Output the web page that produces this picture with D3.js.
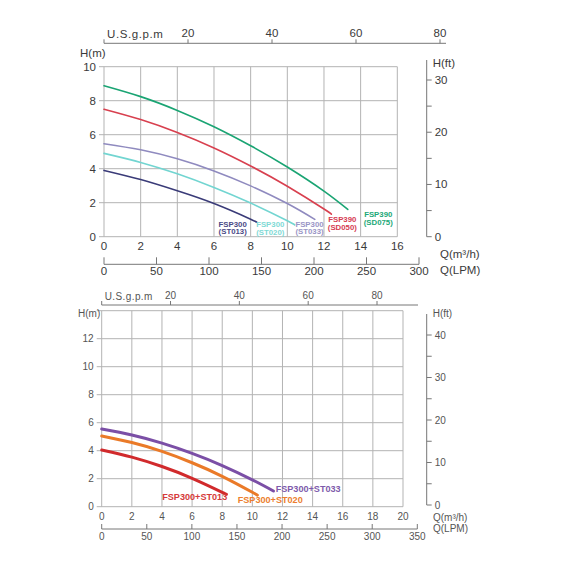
<!DOCTYPE html>
<html>
<head>
<meta charset="utf-8">
<script src="https://cdn.jsdelivr.net/npm/d3@7"></script>
<style>
  body { margin: 0; background: #fff; }
  text { font-family: "Liberation Sans", Arial, sans-serif; }
</style>
</head>
<body>
<svg id="chart" width="570" height="570"></svg>
<script>
// ---- data: Q in m3/h, H in m ----
var topNames = [["FSP300", "(ST013)"], ["FSP300", "(ST020)"], ["FSP300", "(ST033)"], ["FSP390", "(SD050)"], ["FSP390", "(SD075)"]];
var topST013 = [[0, 3.9], [2, 3.36], [4, 2.7], [6, 1.95], [8, 1.03], [8.3, 0.86]];
var topST020 = [[0, 4.9], [2, 4.37], [4, 3.7], [6, 2.9], [8, 1.98], [10, 0.94], [10.4, 0.69]];
var topST033 = [[0, 5.47], [2, 5.11], [4, 4.58], [6, 3.87], [8, 2.99], [10, 1.95], [11.5, 1.02]];
var topSD050 = [[0, 7.5], [2, 6.89], [4, 6.13], [6, 5.22], [8, 4.16], [10, 2.97], [12, 1.63], [12.4, 1.32]];
var topSD075 = [[0, 8.88], [2, 8.24], [4, 7.43], [6, 6.47], [8, 5.35], [10, 4.1], [12, 2.68], [13.3, 1.6]];

var botNames = ["FSP300+ST013", "FSP300+ST020", "FSP300+ST033"];
var botST013 = [[0, 4.05], [2, 3.54], [4, 2.87], [6, 2.03], [8, 1.03], [8.2, 0.92]];
var botST020 = [[0, 5.05], [2, 4.58], [4, 3.95], [6, 3.14], [8, 2.17], [10, 1.03], [10.3, 0.84]];
var botST033 = [[0, 5.55], [2, 5.12], [4, 4.54], [6, 3.81], [8, 2.94], [10, 1.92], [11.4, 1.12]];

// tick labels
var gpmTicks = [20, 40, 60, 80];
var topQTicks = d3.range(0, 17, 2);
var topHTicks = d3.range(0, 11, 2);
var topLpmTicks = [0, 50, 100, 150, 200, 250, 300];
var topFtTicks = [0, 10, 20, 30];
var topFtMinor = [5, 15, 25];
var botQTicks = d3.range(0, 21, 2);
var botHTicks = [0, 2, 4, 6, 8, 10, 12];
var botLpmTicks = [0, 50, 100, 150, 200, 250, 300, 350];
var botFtTicks = [0, 10, 20, 30, 40];
var botFtMinor = [5, 15, 25, 35];

var svg = d3.select('#chart');

function drawChart(c) {
  var g = svg.append('g');
  var x = d3.scaleLinear().domain([0, c.qMax]).range([c.x0, c.x1]);
  var y = d3.scaleLinear().domain([0, c.hMax]).range([c.yBot, c.yTop]);
  var gpm = d3.scaleLinear().domain([0, 80]).range([c.x0, c.gpmEnd]);
  var lpm = d3.scaleLinear().domain([0, c.lpmMax]).range([c.x0, c.lpmEnd]);
  var ft = d3.scaleLinear().domain([0, c.ftRef]).range([c.ftBot, c.ftRefY]);
  var grid = '#b3b3b3', axc = '#777', tc = c.textColor;

  // grid
  g.selectAll('.vg').data(c.qTicks).enter().append('line')
    .attr('x1', d => x(d)).attr('x2', d => x(d))
    .attr('y1', c.yTop).attr('y2', c.yBot)
    .attr('stroke', grid).attr('stroke-width', 1);
  g.selectAll('.hg').data(c.hGrid).enter().append('line')
    .attr('x1', c.x0 - 5).attr('x2', c.x1)
    .attr('y1', d => y(d)).attr('y2', d => y(d))
    .attr('stroke', grid).attr('stroke-width', 1);

  // left H(m) labels
  g.selectAll('.hl').data(c.hTicks).enter().append('text')
    .attr('x', c.x0 - 8).attr('y', d => y(d)).attr('dy', '0.35em')
    .attr('text-anchor', 'end').attr('font-size', c.fs).attr('fill', tc)
    .text(d => d);
  g.append('text').attr('x', c.hmX).attr('y', c.hmY).attr('dy', '0.35em')
    .attr('font-size', c.fs).attr('fill', tc).text('H(m)');

  // Q m3/h labels
  g.selectAll('.ql').data(c.qTicks).enter().append('text')
    .attr('x', d => x(d)).attr('y', c.yBot + c.qLabOff).attr('dy', '0.35em')
    .attr('text-anchor', 'middle').attr('font-size', c.fs).attr('fill', tc)
    .text(d => d);

  // top U.S.g.p.m axis
  g.append('line').attr('x1', c.x0).attr('x2', c.gpmLineEnd)
    .attr('y1', c.gpmY).attr('y2', c.gpmY).attr('stroke', axc);
  g.selectAll('.gt').data([0].concat(gpmTicks)).enter().append('line')
    .attr('x1', d => gpm(d)).attr('x2', d => gpm(d))
    .attr('y1', c.gpmY).attr('y2', c.gpmY - 4).attr('stroke', axc);
  g.selectAll('.gl').data(gpmTicks).enter().append('text')
    .attr('x', d => gpm(d)).attr('y', c.gpmY - 10).attr('dy', '0.35em')
    .attr('text-anchor', 'middle').attr('font-size', c.fs).attr('fill', tc)
    .text(d => d);
  g.append('text').attr('x', c.x0 + 3).attr('y', c.gpmY - 9).attr('dy', '0.35em')
    .attr('font-size', c.fs).attr('letter-spacing', c.gpmSp).attr('fill', tc).text('U.S.g.p.m');

  // bottom LPM axis
  g.append('line').attr('x1', c.x0).attr('x2', c.lpmEnd)
    .attr('y1', c.lpmY).attr('y2', c.lpmY).attr('stroke', axc);
  g.selectAll('.lt').data(c.lpmTicks).enter().append('line')
    .attr('x1', d => lpm(d)).attr('x2', d => lpm(d))
    .attr('y1', c.lpmY).attr('y2', c.lpmY - c.lpmTick).attr('stroke', axc);
  g.selectAll('.ll').data(c.lpmTicks).enter().append('text')
    .attr('x', d => lpm(d)).attr('y', c.lpmY + c.lpmLabOff).attr('dy', '0.35em')
    .attr('text-anchor', 'middle').attr('font-size', c.fs).attr('fill', tc)
    .text(d => d);
  g.append('text').attr('x', c.qNameX).attr('y', c.qNameY1).attr('dy', '0.35em')
    .attr('font-size', c.fs).attr('fill', tc).text('Q(m³/h)');
  g.append('text').attr('x', c.qNameX).attr('y', c.qNameY2).attr('dy', '0.35em')
    .attr('font-size', c.fs).attr('fill', tc).text('Q(LPM)');

  // right H(ft) axis
  g.append('line').attr('x1', c.ftX).attr('x2', c.ftX)
    .attr('y1', c.ftTop).attr('y2', c.ftBot).attr('stroke', axc);
  g.selectAll('.ft').data(c.ftTicks.concat(c.ftMinor)).enter().append('line')
    .attr('x1', c.ftX).attr('x2', c.ftX + 5)
    .attr('y1', d => ft(d)).attr('y2', d => ft(d)).attr('stroke', axc);
  g.selectAll('.fl').data(c.ftTicks).enter().append('text')
    .attr('x', c.ftX + 8).attr('y', d => ft(d)).attr('dy', '0.35em')
    .attr('font-size', c.fs).attr('fill', tc).text(d => d);
  g.append('text').attr('x', c.ftX + 6).attr('y', c.ftNameY).attr('dy', '0.35em')
    .attr('font-size', c.fs).attr('fill', tc).text('H(ft)');

  // curves
  var line = d3.line().x(d => x(d[0])).y(d => y(d[1])).curve(d3.curveNatural);
  g.selectAll('.curve').data(c.series).enter().append('path')
    .attr('d', line).attr('fill', 'none')
    .attr('stroke', (d, i) => c.colors[i]).attr('stroke-width', c.sw)
    .attr('stroke-linecap', 'round');

  // curve labels
  c.names.forEach(function (nm, i) {
    var lines = Array.isArray(nm) ? nm : [nm];
    lines.forEach(function (t, j) {
      g.append('text')
        .attr('x', x(c.labelAt[i][0])).attr('y', y(c.labelAt[i][1]) + j * c.labLine)
        .attr('dy', '0.35em').attr('text-anchor', c.labAnchor)
        .attr('font-size', c.labFs).attr('font-weight', 'bold')
        .attr('fill', c.labColors[i]).text(t);
    });
  });
}

drawChart({
  x0: 104, x1: 397.3, qMax: 16, yTop: 66.7, yBot: 236.7, hMax: 10,
  qTicks: topQTicks, hTicks: topHTicks, hGrid: topHTicks,
  gpmY: 43.3, gpmEnd: 440, gpmLineEnd: 446, gpmSp: 0.6,
  lpmMax: 300, lpmEnd: 419, lpmY: 264.3, lpmTick: 7, lpmLabOff: 6.5, lpmTicks: topLpmTicks,
  ftX: 426.7, ftTop: 60, ftBot: 236.7, ftRef: 30, ftRefY: 80, ftTicks: topFtTicks, ftMinor: topFtMinor,
  ftNameY: 63, hmX: 80, hmY: 53, qLabOff: 9.5, qNameX: 440, qNameY1: 254, qNameY2: 270,
  fs: 11.5, textColor: '#3a3a3a', sw: 1.6,
  series: [topST013, topST020, topST033, topSD050, topSD075],
  colors: ['#3a3b78', '#72d5d1', '#8f8abf', '#d8404f', '#1aa473'],
  labColors: ['#4a4a86', '#7fd9d5', '#9a95c6', '#d63c52', '#22a877'],
  names: topNames, labAnchor: 'middle', labFs: 7.8, labLine: 7.8,
  labelAt: [[7.02, 0.75], [9.07, 0.73], [11.21, 0.75], [13.0, 1.02], [14.96, 1.32]]
});

drawChart({
  x0: 101.7, x1: 403, qMax: 20, yTop: 310.7, yBot: 506.7, hMax: 14,
  qTicks: botQTicks, hTicks: botHTicks, hGrid: d3.range(0, 15, 2),
  gpmY: 305, gpmEnd: 377, gpmLineEnd: 418, gpmSp: 0.4,
  lpmMax: 350, lpmEnd: 417.3, lpmY: 529, lpmTick: 5, lpmLabOff: 7.5, lpmTicks: botLpmTicks,
  ftX: 426.7, ftTop: 314, ftBot: 505, ftRef: 40, ftRefY: 335, ftTicks: botFtTicks, ftMinor: botFtMinor,
  ftNameY: 313, hmX: 78, hmY: 313, qLabOff: 10, qNameX: 433, qNameY1: 517, qNameY2: 528.5,
  fs: 10, textColor: '#555', sw: 3,
  series: [botST013, botST020, botST033],
  colors: ['#d12a2c', '#ea7a28', '#7b4fa6'],
  labColors: ['#d63a3a', '#ec7e2e', '#7e5aab'],
  names: botNames, labAnchor: 'start', labFs: 9.1, labLine: 0,
  labelAt: [[4.02, 0.69], [9.03, 0.52], [11.55, 1.3]]
});
</script>
</body>
</html>
